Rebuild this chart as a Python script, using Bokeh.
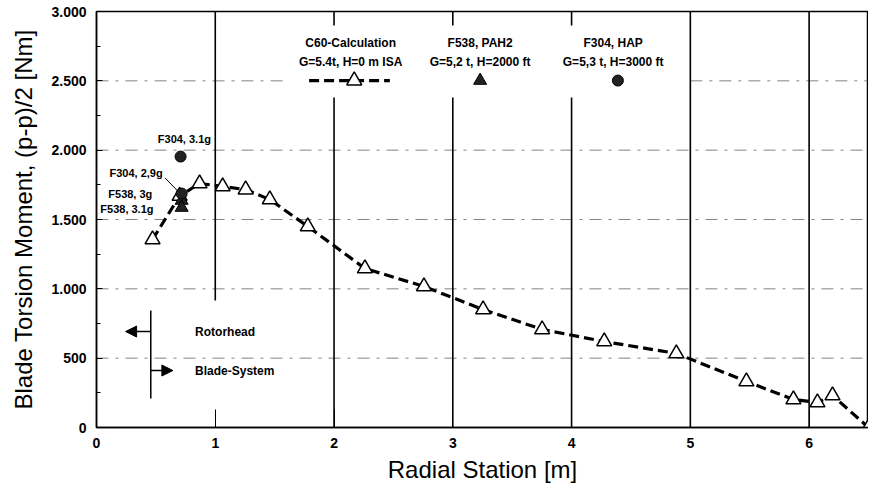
from bokeh.plotting import figure
from bokeh.models import FixedTicker, Arrow, NormalHead, Label, Range1d
from bokeh.embed import file_html
from bokeh.resources import INLINE

# ---- data ----
calc_x = [0.472, 0.70, 0.868, 1.062, 1.256, 1.459, 1.779, 2.26, 2.757, 3.255,
          3.752, 4.275, 4.882, 5.472, 5.868, 6.07, 6.197, 6.5]
calc_y = [1356, 1670, 1760, 1738, 1716, 1644, 1450, 1147, 1017, 851,
          707, 620, 534, 332, 202, 180, 231, 0]

f304_x = [0.708, 0.717]
f304_y = [1954, 1687]
f304_names = ["F304, 3.1g", "F304, 2,9g"]

f538_x = [0.717, 0.717]
f538_y = [1637, 1586]
f538_names = ["F538, 3g", "F538, 3.1g"]

x_ticks = [0, 1, 2, 3, 4, 5, 6]
y_ticks = [0, 500, 1000, 1500, 2000, 2500, 3000]
y_tick_labels = ["0", "500", "1.000", "1.500", "2.000", "2.500", "3.000"]
y_minor = [250, 750, 1250, 1750, 2250, 2750]

legend_titles = ["C60-Calculation", "F538, PAH2", "F304, HAP"]
legend_sub = ["G=5.4t, H=0 m ISA", "G=5,2 t, H=2000 ft", "G=5,3 t, H=3000 ft"]

FONT = "Liberation Sans"

p = figure(width=868, height=490, x_range=Range1d(0, 6.5), y_range=Range1d(0, 3000),
           output_backend="svg", toolbar_location=None,
           min_border_left=96, min_border_right=0, min_border_top=11, min_border_bottom=63)
p.xgrid.visible = False
p.ygrid.visible = False
p.outline_line_color = "black"
p.outline_line_width = 1.5
p.background_fill_color = "white"

# axes
p.xaxis.ticker = FixedTicker(ticks=x_ticks)
p.yaxis.ticker = FixedTicker(ticks=y_ticks, minor_ticks=y_minor)
p.yaxis.major_label_overrides = {t: l for t, l in zip(y_ticks, y_tick_labels)}
for ax in (p.xaxis[0], p.yaxis[0]):
    ax.axis_line_color = "black"
    ax.axis_line_width = 1.5
    ax.major_tick_out = 0
    ax.minor_tick_out = 0
    ax.major_tick_line_color = "black"
    ax.major_label_text_font = FONT
    ax.major_label_text_font_style = "bold"
    ax.major_label_text_font_size = "14px"
    ax.major_label_text_color = "black"
    ax.major_label_standoff = 10
    ax.axis_label_text_font = FONT
    ax.axis_label_text_font_style = "normal"
    ax.axis_label_text_font_size = "24px"
    ax.axis_label_text_color = "black"
p.xaxis.major_tick_in = 18
p.xaxis.minor_tick_line_color = None
p.yaxis.major_tick_in = 6
p.yaxis.minor_tick_in = 4
p.yaxis.minor_tick_line_color = "black"
p.xaxis.axis_label = "Radial Station [m]"
p.yaxis.axis_label = "Blade Torsion Moment, (p-p)/2 [Nm]"
p.xaxis.axis_label_standoff = 5
p.yaxis.axis_label_standoff = 11

# horizontal dashed grid lines (manual, broken near legend)
hx0 = [0, 0, 0, 0, 0, 5.0]
hx1 = [6.5, 6.5, 6.5, 6.5, 1.6, 6.5]
hy = [500, 1000, 1500, 2000, 2500, 2500]
p.segment(x0=hx0, x1=hx1, y0=hy, y1=hy, line_color="#333333", line_width=0.8,
          line_dash="12 7 3 7", line_alpha=0.75)

# vertical solid grid lines (with gaps behind legend / annotation)
vx = [1, 2, 2, 3, 3, 4, 4, 5, 6]
vy0 = [916, 0, 2899, 0, 2899, 0, 2899, 0, 0]
vy1 = [3000, 2380, 3000, 2380, 3000, 2380, 3000, 3000, 3000]
p.segment(x0=vx, x1=vx, y0=vy0, y1=vy1, line_color="black", line_width=1.6)

# calculation curve
p.line(calc_x, calc_y, line_color="black", line_width=3.2, line_dash="10 5")
p.scatter(calc_x, calc_y, marker="triangle", size=15, fill_color="white",
          line_color="black", line_width=1.5)

# flight test points
p.scatter(f538_x, f538_y, marker="triangle", size=13, fill_color="#222222",
          line_color="black", line_width=1)
p.scatter(f304_x, f304_y, marker="circle", size=11, fill_color="#222222",
          line_color="black", line_width=1)

# point labels
lab_style = dict(text_font=FONT, text_font_style="bold", text_font_size="11px",
                 text_color="black", text_baseline="middle")
p.add_layout(Label(x=0.74, y=2084, text=f304_names[0], text_align="center", **lab_style))
p.add_layout(Label(x=0.557, y=1832, text=f304_names[1], text_align="right", **lab_style))
p.add_layout(Label(x=0.47, y=1687, text=f538_names[0], text_align="right", **lab_style))
p.add_layout(Label(x=0.48, y=1579, text=f538_names[1], text_align="right", **lab_style))
p.segment(x0=[0.577], y0=[1800], x1=[0.69], y1=[1700], line_color="black", line_width=1)

# legend block
leg_x = [2.14, 3.23, 4.35]
leg_style = dict(text_font=FONT, text_font_style="bold", text_font_size="12px",
                 text_color="black", text_align="center", text_baseline="middle")
for lx, t, s in zip(leg_x, legend_titles, legend_sub):
    p.add_layout(Label(x=lx, y=2776, text=t, **leg_style))
    p.add_layout(Label(x=lx, y=2639, text=s, **leg_style))
p.line([1.79, 2.47], [2502, 2502], line_color="black", line_width=3.2, line_dash="10 5")
p.scatter([2.17], [2502], marker="triangle", size=15, fill_color="white",
          line_color="black", line_width=1.5)
p.scatter([3.23], [2502], marker="triangle", size=13, fill_color="#222222",
          line_color="black", line_width=1)
p.scatter([4.39], [2502], marker="circle", size=11, fill_color="#222222",
          line_color="black", line_width=1)

# Rotorhead / Blade-System annotation
p.segment(x0=[0.457], x1=[0.457], y0=[209], y1=[844], line_color="black", line_width=1.5)
p.add_layout(Arrow(end=NormalHead(size=11, fill_color="black", line_color="black"),
                   x_start=0.457, y_start=692, x_end=0.245, y_end=692,
                   line_color="black", line_width=1.5))
p.add_layout(Arrow(end=NormalHead(size=11, fill_color="black", line_color="black"),
                   x_start=0.457, y_start=411, x_end=0.643, y_end=411,
                   line_color="black", line_width=1.5))
ann_style = dict(text_font=FONT, text_font_style="bold", text_font_size="12px",
                 text_color="black", text_align="left", text_baseline="middle")
p.add_layout(Label(x=0.83, y=692, text="Rotorhead", **ann_style))
p.add_layout(Label(x=0.83, y=411, text="Blade-System", **ann_style))

open("out.html", "w").write(file_html(p, INLINE))
